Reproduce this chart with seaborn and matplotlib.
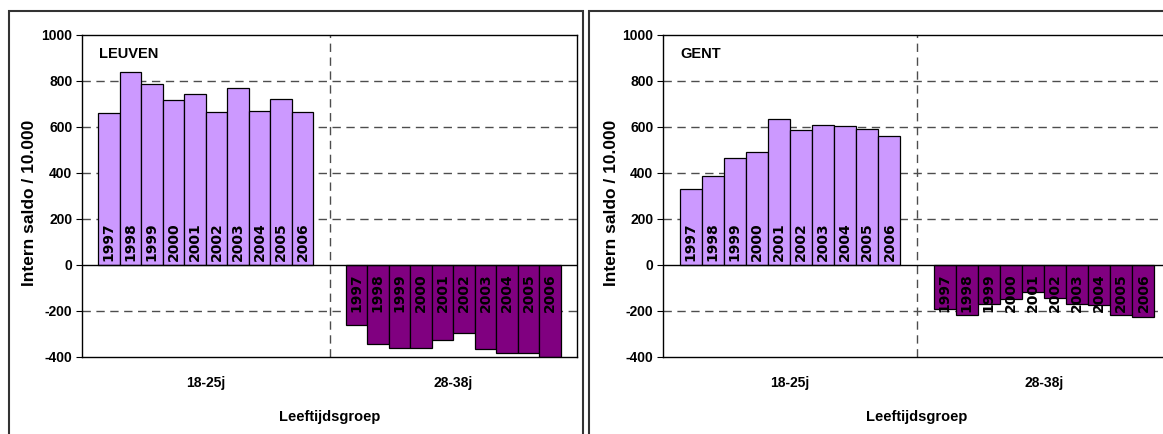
import pandas as pd
import matplotlib.pyplot as plt
import seaborn as sns
from matplotlib.patches import Rectangle

# data
jaren = ["1997", "1998", "1999", "2000", "2001", "2002", "2003", "2004", "2005", "2006"]
groepen = ["18-25j", "28-38j"]

leuven_jong = [661, 840, 787, 716, 745, 665, 768, 671, 720, 664]
leuven_oud = [-262, -345, -360, -362, -328, -297, -367, -384, -381, -399]
gent_jong = [330, 385, 465, 490, 633, 588, 610, 606, 591, 559]
gent_oud = [-193, -218, -171, -146, -117, -142, -168, -176, -217, -225]

kleur_pos = "#CC99FF"
kleur_neg = "#800080"


def maak_df(jong, oud):
    return pd.DataFrame({
        "groep": [groepen[0]] * len(jaren) + [groepen[1]] * len(jaren),
        "jaar": jaren + jaren,
        "saldo": jong + oud,
    })


sns.set_style("white")
plt.rcParams["font.family"] = ["Liberation Sans", "DejaVu Sans"]
plt.rcParams["axes.unicode_minus"] = False
for k in ["text.color", "axes.labelcolor", "xtick.color", "ytick.color"]:
    plt.rcParams[k] = "black"

fig = plt.figure(figsize=(11.63, 4.34), dpi=100)

# kaders rond elke grafiek
fig.patches.append(Rectangle((9 / 1163, -0.1), 574 / 1163, 0.9747 + 0.1, transform=fig.transFigure,
                             fill=False, ec="#333333", lw=1.5, zorder=0))
fig.patches.append(Rectangle((589 / 1163, -0.1), 0.6, 0.9747 + 0.1, transform=fig.transFigure,
                             fill=False, ec="#333333", lw=1.5, zorder=0))

ax1 = fig.add_axes([82 / 1163, 77 / 434, 495 / 1163, 322 / 434])
ax2 = fig.add_axes([663 / 1163, 77 / 434, 508 / 1163, 322 / 434])

panelen = [(ax1, "LEUVEN", maak_df(leuven_jong, leuven_oud)),
           (ax2, "GENT", maak_df(gent_jong, gent_oud))]

for ax, stad, df in panelen:
    # rasterlijnen achter de staven
    for yv in [-200, 200, 400, 600, 800]:
        ax.axhline(yv, color="#4d4d4d", lw=1, ls=(0, (6, 4)), zorder=0)
    ax.axvline(0.5, color="#4d4d4d", lw=1, ls=(0, (6, 4)), zorder=0)

    sns.barplot(data=df, x="groep", y="saldo", hue="jaar", order=groepen, hue_order=jaren,
                width=0.87, gap=0, dodge=True, legend=False, ax=ax,
                palette=[kleur_pos] * len(jaren), edgecolor="black", linewidth=0.9,
                saturation=1, zorder=2)

    staven = sorted([p for p in ax.patches if not pd.isna(p.get_height())], key=lambda p: p.get_x())
    labels = df.sort_values(["groep", "jaar"])["jaar"].tolist()

    # kleur volgens teken + jaartallen in de staven
    for p, jaar in zip(staven, labels):
        h = p.get_height()
        xc = p.get_x() + p.get_width() / 2
        if h >= 0:
            p.set_facecolor(kleur_pos)
            ax.annotate(jaar, (xc, 0), xytext=(0, 3), textcoords="offset points",
                        rotation=90, ha="center", va="bottom", fontsize=10,
                        fontweight="bold", family="DejaVu Sans", zorder=4)
        else:
            p.set_facecolor(kleur_neg)
            ax.annotate(jaar, (xc, 0), xytext=(0, -6), textcoords="offset points",
                        rotation=90, ha="center", va="top", fontsize=10,
                        fontweight="bold", family="DejaVu Sans", zorder=4)

    ax.axhline(0, color="black", lw=1, zorder=3)
    ax.set_ylim(-400, 1000)
    ax.set_yticks(range(-400, 1001, 200))
    ax.set_xlim(-0.5, 1.5)
    for s in ax.spines.values():
        s.set_color("black")
        s.set_linewidth(1)
    ax.tick_params(axis="y", length=4, width=0.8, direction="out", left=True, pad=3)
    ax.tick_params(axis="x", length=0, pad=14)
    for lab in ax.get_yticklabels() + ax.get_xticklabels():
        lab.set_fontweight("bold")
        lab.set_fontsize(10)
    ax.set_xlabel("Leeftijdsgroep", fontsize=10.5, fontweight="bold", labelpad=14)
    ax.set_ylabel("Intern saldo / 10.000", fontsize=12.5, fontweight="bold")
    ax.yaxis.set_label_coords(-52 / ax.get_position().width / 1163, 0.48)
    ax.yaxis.label.set_va("center")
    ax.text(0.035, 0.94, stad, transform=ax.transAxes, fontsize=10.5, fontweight="bold",
            ha="left", va="center")

fig.savefig("out.png", dpi=100)
